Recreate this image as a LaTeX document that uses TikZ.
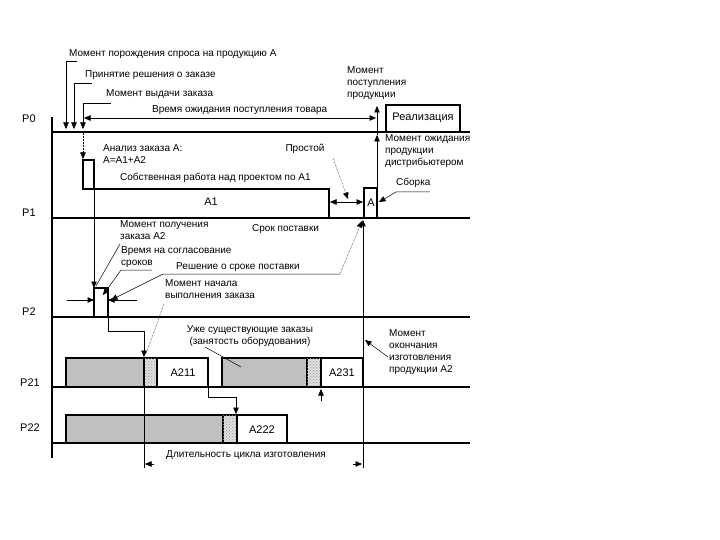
\documentclass[tikz,border=0pt]{standalone}
\usepackage{fontspec}
\setmainfont{Liberation Sans}
\usetikzlibrary{arrows.meta,patterns}
\definecolor{boxgray}{RGB}{192,192,192}
\tikzset{
 tl/.style={line width=2.4pt},
 bx/.style={line width=1.6pt},
 ld/.style={line width=0.5pt},
 tip/.style={-{Triangle[length=6.5pt,width=5.5pt]}},
 tips/.style={{Triangle[length=6.5pt,width=5.5pt]}-{Triangle[length=6.5pt,width=5.5pt]}},
 dot/.style={ld,densely dotted},
 lbl/.style={font=\fontsize{10}{12}\selectfont, inner sep=0pt, align=left},
 plbl/.style={font=\fontsize{11}{12}\selectfont, inner sep=0pt},
 gbox/.style={bx,fill=boxgray},
 hbox/.style={bx,fill=gray!25,postaction={pattern=crosshatch dots,pattern color=gray!80}},
 wbox/.style={bx,fill=white},
}
\begin{document}
\begin{tikzpicture}[x=1pt,y=-1pt]
\useasboundingbox[fill=white] (0,0) rectangle (720,540);

% ---------- boxes P21 / P22
\draw[gbox] (66,358) rectangle (144,387);
\draw[hbox] (144,358) rectangle (157,387);
\draw[wbox] (157,358) rectangle (208,387);
\node[plbl] (a211) at (183,373) {A211};
\draw[gbox] (222,358) rectangle (307,387);
\draw[hbox] (307,358) rectangle (321,387);
\draw[wbox] (321,358) rectangle (363,387);
\node[plbl] (a231) at (342,373) {A231};
\draw[gbox] (66,415) rectangle (223,443);
\draw[hbox] (223,415) rectangle (237,443);
\draw[wbox] (237,415) rectangle (287,443);
\node[plbl] (a222) at (262,430) {A222};

% ---------- P0 realisation box
\draw[bx] (386,132) -- (386,105) -- (460,105) -- (460,132);
\node[plbl] (real) at (423,118) {Реализация};

% ---------- P1 boxes
\draw[bx] (83,160) rectangle (94,189);
\draw[bx] (94,189) -- (329,189) -- (329,218);
\node[plbl] (a1) at (211,202) {A1};
\draw[bx] (364,218) -- (364,188) -- (377,188) -- (377,218);
\node[plbl] (aa) at (371,203) {A};

% ---------- P2 box
\draw[bx] (94,317) -- (94,288) -- (108,288) -- (108,317);

% ---------- time lines
\coordinate (ax0) at (52,117); \coordinate (ax1) at (52,458);
\draw[tl] (ax0) -- (ax1);
\foreach \n/\y in {0/132,1/218,2/317,21/387,22/443}{
  \coordinate (L\n s) at (52,\y); \coordinate (L\n e) at (470,\y);
  \draw[tl] (L\n s) -- (L\n e);
}
\node[plbl,anchor=west] (p0) at (22,119) {P0};
\node[plbl,anchor=west] (p1) at (22,213) {P1};
\node[plbl,anchor=west] (p2) at (22,312) {P2};
\node[plbl,anchor=west] (p21) at (20,383) {P21};
\node[plbl,anchor=west] (p22) at (20,428) {P22};

% ---------- P0 callouts
\node[lbl,anchor=west] (t1) at (69,54) {Момент порождения спроса на продукцию А};
\node[lbl,anchor=west] (t2) at (85,75) {Принятие решения о заказе};
\node[lbl,anchor=west] (t3) at (106,94) {Момент выдачи заказа};
\node[lbl,anchor=west] (t4) at (152,110) {Время ожидания поступления товара};
\coordinate (c1a) at (77,61); \coordinate (c1b) at (66,61); \coordinate (c1c) at (66,129);
\coordinate (c2a) at (92,83); \coordinate (c2b) at (74,83); \coordinate (c2c) at (74,129);
\coordinate (c3a) at (111,103); \coordinate (c3b) at (83,103); \coordinate (c3c) at (83,129);
\draw[ld,tip] (c1a) -- (c1b) -- (c1c);
\draw[ld,tip] (c2a) -- (c2b) -- (c2c);
\draw[ld,tip] (c3a) -- (c3b) -- (c3c);
\coordinate (w1) at (84,118); \coordinate (w2) at (376,118);
\draw[ld,tips] (w1) -- (w2);

\node[lbl,anchor=north west] (t5) at (347,66) {Момент\\поступления\\продукции};
\node[lbl,anchor=north west] (t6) at (385,134) {Момент ожидания\\продукции\\дистрибьютером};
\coordinate (v1) at (377,188); \coordinate (v2) at (377,135); \coordinate (v3) at (377,106);
\draw[ld,tip] (v1) -- (v2);
\draw[ld,tip] (v2) -- (v3);

% ---------- P1 callouts
\coordinate (an0) at (83,133); \coordinate (an1) at (83,159);
\draw[dot,tip] (an0) -- (an1);
\node[lbl,anchor=north west] (t7) at (103,144) {Анализ заказа А:\\А=А1+А2};
\node[lbl,anchor=west] (t8) at (120,178) {Собственная работа над проектом по А1};
\node[lbl] (t9) at (305,149) {Простой};
\coordinate (pr0) at (333,158); \coordinate (pr1) at (348,199);
\draw[dot,tip] (pr0) -- (pr1);
\coordinate (id0) at (330,202); \coordinate (id1) at (363,202);
\draw[ld,tips] (id0) -- (id1);
\node[lbl,anchor=west] (t10) at (396,183) {Сборка};
\coordinate (sb0) at (430,192); \coordinate (sb1) at (396,192); \coordinate (sb2) at (379,202);
\draw[ld,tip] (sb0) -- (sb1) -- (sb2);

% vertical line from analysis box down to P2
\coordinate (x94a) at (94,160); \coordinate (x94b) at (94,288);
\draw[ld,tip] (x94a) -- (x94b);

% ---------- P2 callouts
\node[lbl,anchor=north west] (t11) at (120,220) {Момент получения\\заказа А2};
\coordinate (g0) at (120,244); \coordinate (g1) at (96,286);
\draw[ld] (g0) -- (g1);
\node[lbl,anchor=west] (t12) at (252,229) {Срок поставки};
\node[lbl,anchor=north west] (t13) at (121,246) {Время на согласование\\сроков};
\coordinate (s0) at (152,270); \coordinate (s1) at (121,270); \coordinate (s2) at (103,295);
\draw[ld,tip] (s0) -- (s1) -- (s2);
\node[lbl,anchor=west] (t14) at (176,267) {Решение о сроке поставки};
\coordinate (r0) at (111,300); \coordinate (r1) at (163,274); \coordinate (r2) at (340,274); \coordinate (r3) at (362,221);
\draw[ld,{Triangle[length=6.5pt,width=5.5pt]}-] (r0) -- (r1) -- (r2);
\draw[dot,tip] (r2) -- (r3);
\coordinate (d0) at (67,300); \coordinate (d1) at (94,300);
\coordinate (d2) at (137,300); \coordinate (d3) at (108,300);
\draw[ld,tip] (d0) -- (d1);
\draw[ld,tip] (d2) -- (d3);
\node[lbl,anchor=north west] (t15) at (165,279) {Момент начала\\выполнения заказа};
\coordinate (m0) at (164,304); \coordinate (m1) at (146,354);
\draw[dot] (m0) -- (m1);

% vertical line x=363
\coordinate (y0) at (363,220); \coordinate (y1) at (363,468);
\draw[ld,{Triangle[length=6.5pt,width=5.5pt]}-] (y0) -- (y1);

% ---------- P21 / P22 connectors
\coordinate (k0) at (108,317); \coordinate (k1) at (108,331); \coordinate (k2) at (144,331); \coordinate (k3) at (144,357);
\draw[ld,tip] (k0) -- (k1) -- (k2) -- (k3);
\coordinate (k4) at (144,468);
\draw[ld] (k3) -- (k4);
\coordinate (q0) at (208,387); \coordinate (q1) at (208,397); \coordinate (q2) at (236,397); \coordinate (q3) at (236,414);
\draw[ld,tip] (q0) -- (q1) -- (q2) -- (q3);
\coordinate (u0) at (321,401); \coordinate (u1) at (321,389);
\draw[ld,tip] (u0) -- (u1);

\node[lbl,align=center] (t16) at (250,336) {Уже существующие заказы\\(занятость оборудования)};
\coordinate (e0) at (205,347); \coordinate (e1) at (241,367);
\draw[ld] (e0) -- (e1);
\node[lbl,anchor=north west] (t17) at (389,329) {Момент\\окончания\\изготовления\\продукции А2};
\coordinate (o0) at (388,357); \coordinate (o1) at (365,340);
\draw[ld,tip] (o0) -- (o1);

\node[lbl] (t18) at (246,455) {Длительность цикла изготовления};
\coordinate (dl0) at (154,464); \coordinate (dl1) at (145,464);
\coordinate (dr0) at (353,464); \coordinate (dr1) at (362,464);
\draw[ld,tip] (dl0) -- (dl1);
\draw[ld,tip] (dr0) -- (dr1);
\end{tikzpicture}
\end{document}
